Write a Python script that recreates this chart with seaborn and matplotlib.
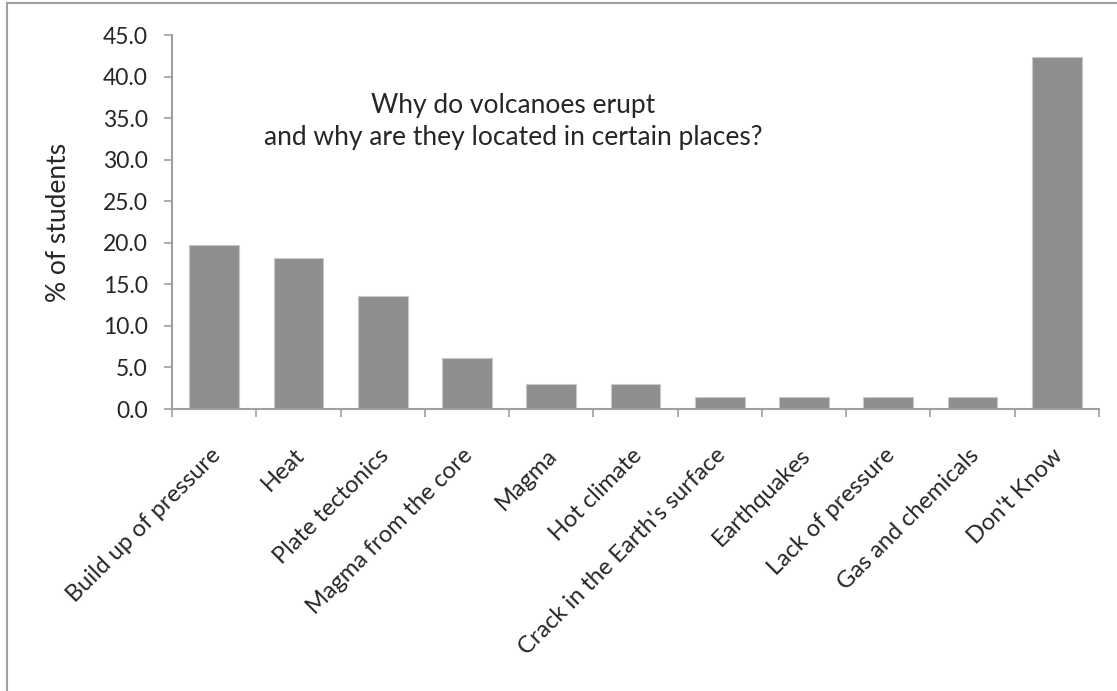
import matplotlib
matplotlib.use("Agg")
import matplotlib.pyplot as plt
import seaborn as sns
import pandas as pd
from matplotlib.patches import Rectangle

# datos
categorias = ["Build up of pressure", "Heat", "Plate tectonics", "Magma from the core",
              "Magma", "Hot climate", "Crack in the Earth's surface", "Earthquakes",
              "Lack of pressure", "Gas and chemicals", "Don't Know"]
porcentajes = [19.7, 18.2, 13.6, 6.1, 3.0, 3.0, 1.5, 1.5, 1.5, 1.5, 42.4]
yticks = [0, 5, 10, 15, 20, 25, 30, 35, 40, 45]

df = pd.DataFrame({"categoria": categorias, "pct": porcentajes})

sns.set_style("white")
plt.rcParams["font.family"] = ["Lato", "DejaVu Sans"]

W, H = 1117, 691
fig = plt.figure(figsize=(W / 100, H / 100), dpi=100)
ax = fig.add_axes([172 / W, 1 - 409 / H, 927 / W, 374 / H])

sns.barplot(data=df, x="categoria", y="pct", color="#8e8e8e", saturation=1,
            width=0.59, edgecolor="#c8c8c8", linewidth=0.8, ax=ax)

gris = "#a0a0a0"
ax.set_xlim(-0.5, len(categorias) - 0.5)
ax.set_ylim(0, 45)
ax.set_yticks(yticks)
ax.set_yticklabels([f"{v:.1f}" for v in yticks], fontsize=16.5)
ax.set_xticks([i - 0.5 for i in range(len(categorias) + 1)])
ax.set_xticklabels([])
# etiquetas del eje x giradas 45 grados
for i, c in enumerate(categorias):
    ax.annotate(c, xy=(i, 0), xycoords=("data", "axes fraction"),
                xytext=(2, -31), textcoords="offset points",
                rotation=45, rotation_mode="anchor", ha="right", va="center",
                fontsize=17)

for lado in ["top", "right"]:
    ax.spines[lado].set_visible(False)
for lado in ["left", "bottom"]:
    ax.spines[lado].set_color(gris)
    ax.spines[lado].set_linewidth(1.5)
ax.tick_params(axis="both", direction="out", length=5.5, width=1.2, color=gris,
               left=True, bottom=True)
ax.tick_params(axis="y", pad=12)

ax.set_xlabel("")
ax.set_ylabel("")
fig.text(58 / W, 1 - 222 / H, "% of students", rotation=90, ha="center", va="center",
         fontsize=19)
fig.text(513 / W, 1 - 121.5 / H, "Why do volcanoes erupt\nand why are they located in certain places?",
         ha="center", va="center", fontsize=19, linespacing=1.3)

# marco exterior estilo Excel
fig.patches.append(Rectangle((7 / W, -0.02), 1.05, 1 - 3 / H + 0.02, transform=fig.transFigure,
                             fill=False, edgecolor="#a0a0a0", linewidth=1.5))

fig.savefig("out.png", dpi=100)
